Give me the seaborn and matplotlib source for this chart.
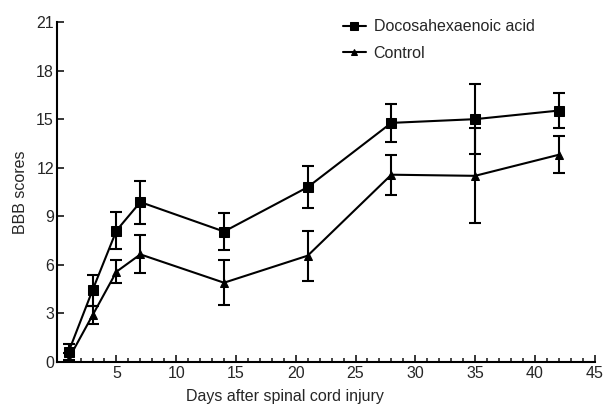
import matplotlib
matplotlib.use("Agg")
import matplotlib.pyplot as plt
import seaborn as sns
import pandas as pd
from matplotlib.ticker import MultipleLocator

days = [1, 3, 5, 7, 14, 21, 28, 35, 42]
dha_mean = [0.64, 4.44, 8.12, 9.88, 8.06, 10.8, 14.77, 15.0, 15.53]
dha_err = [0.5, 0.96, 1.14, 1.33, 1.17, 1.29, 1.18, 2.15, 1.08]
ctrl_mean = [0.2, 2.89, 5.58, 6.65, 4.9, 6.57, 11.57, 11.5, 12.8]
ctrl_err = [0.35, 0.57, 0.71, 1.17, 1.4, 1.55, 1.24, 2.93, 1.14]
series = ["Docosahexaenoic acid", "Control"]

df = pd.DataFrame({
    "day": days * 2,
    "score": dha_mean + ctrl_mean,
    "group": [series[0]] * len(days) + [series[1]] * len(days),
})

sns.set_style("ticks")
plt.rcParams["font.family"] = ["Liberation Sans", "DejaVu Sans"]

fig = plt.figure(figsize=(6.03, 4.05), dpi=100)
ax = fig.add_axes([0.094, 0.106, 0.892, 0.8397])

for m, e in [(dha_mean, dha_err), (ctrl_mean, ctrl_err)]:
    ax.errorbar(days, m, yerr=e, fmt="none", ecolor="black", elinewidth=1.5,
                capsize=4, capthick=1.5, zorder=2)

sns.lineplot(data=df, x="day", y="score", hue="group", style="group",
             markers={series[0]: "s", series[1]: "^"}, dashes=False,
             palette={series[0]: "black", series[1]: "black"},
             linewidth=1.5, markersize=7, markeredgecolor="black", ax=ax, zorder=3)
# marker sizes per series (squares larger than triangles, as in the reference)
lines = [l for l in ax.lines if l.get_marker() in ("s", "^")]
for l in lines:
    if l.get_marker() == "s":
        l.set_markersize(6.5)
    else:
        l.set_markersize(5.5)

ax.set_xlim(0, 45)
ax.set_ylim(0, 21)
ax.xaxis.set_minor_locator(MultipleLocator(1))
ax.yaxis.set_major_locator(MultipleLocator(3))
ax.set_xticks([5, 10, 15, 20, 25, 30, 35, 40, 45])
ax.tick_params(axis="x", which="major", direction="in", length=5, width=1.3, labelsize=11.5, pad=3)
ax.tick_params(axis="x", which="minor", direction="in", length=3, width=1.2)
ax.tick_params(axis="y", which="major", direction="in", length=5, width=1.3, labelsize=11.5, pad=2)
for s in ["top", "right"]:
    ax.spines[s].set_visible(False)
for s in ["left", "bottom"]:
    ax.spines[s].set_linewidth(1.5)
    ax.spines[s].set_color("black")

ax.set_xlabel("Days after spinal cord injury", fontsize=11.5)
ax.xaxis.set_label_coords(0.424, -0.078)
ax.set_ylabel("BBB scores", fontsize=11.5)
ax.yaxis.set_label_coords(-0.054, 0.5)

leg = ax.legend(loc="upper left", bbox_to_anchor=(0.506, 1.05), frameon=False,
                fontsize=11.5, handlelength=1.4, handletextpad=0.5, labelspacing=0.7)
for h in leg.legend_handles:
    if h.get_marker() == "s":
        h.set_markersize(6)
    else:
        h.set_markersize(5)

fig.savefig("out.png", dpi=100)
